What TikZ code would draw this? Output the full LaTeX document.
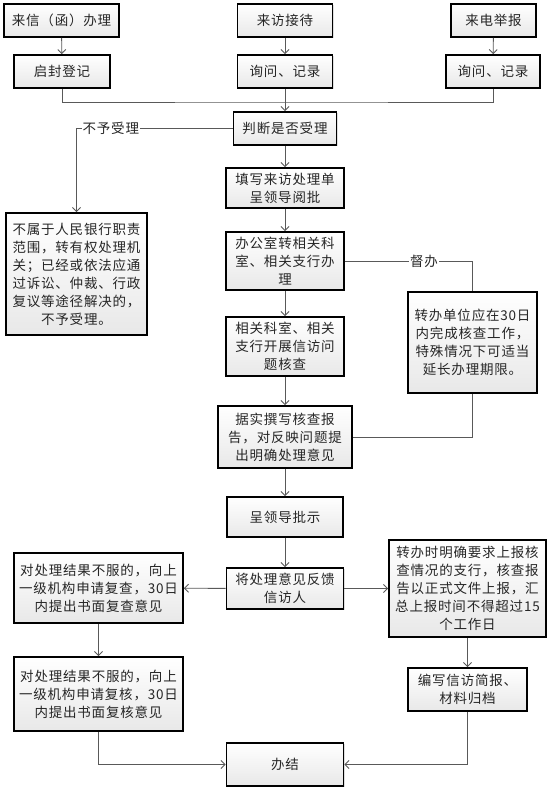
\documentclass[tikz,border=0pt]{standalone}
\usepackage{fontspec}
\newfontfamily\cjk[LetterSpace=6]{Noto Sans CJK SC}
\usepackage{tikz}
\usetikzlibrary{arrows.meta, positioning, shadows}

\tikzset{
  box/.style={draw=black, line width=1.8pt, top color=white, bottom color=black!9,
    text=black!85, align=center, inner sep=1pt, font=\cjk\fontsize{13.5}{18}\selectfont,
    drop shadow={shadow xshift=1.2pt, shadow yshift=-1.2pt, opacity=0.25}},
  wh/.style 2 args={minimum width=#1pt, minimum height=#2pt},
  link/.style={draw=black!65, line width=0.9pt},
  arr/.style={link, -{Straight Barb[length=4pt,width=8pt]}},
  tag/.style={fill=white, inner sep=1pt, text=black!85, font=\cjk\fontsize{13.5}{18}\selectfont}
}

\begin{document}
\begin{tikzpicture}[x=1pt, y=-1pt]
    \useasboundingbox (0,0) rectangle (554,795);

    % Three intake channels (top row)
    \node[box, wh={115}{33}] (letter) at (61.5,20.5) {来信（函）办理};
    \node[box, wh={95}{33}]  (visit)  at (285,20.5)  {来访接待};
    \node[box, wh={85}{33}]  (phone)  at (493.5,20.5) {来电举报};
    \node[box, wh={96}{33}]  (open)   at (62,71.5)   {启封登记};
    \node[box, wh={95}{33}]  (askm)   at (285,71.5)  {询问、记录};
    \node[box, wh={94}{33}]  (askr)   at (493,71.5)  {询问、记录};
    \coordinate (mrg) at (285,102);

    % Main column
    \node[box, wh={103}{33}] (judge)    at (285,128.5) {判断是否受理};
    \node[box, wh={118}{40}] (fill)     at (285,188)   {填写来访处理单\\呈领导阅批};
    \node[box, wh={118}{58}] (office)   at (285,261)   {办公室转相关科\\室、相关支行办\\理};
    \node[box, wh={118}{59}] (check)    at (285,346.5) {相关科室、相关\\支行开展信访问\\题核查};
    \node[box, wh={134}{62}] (report)   at (285,437)   {据实撰写核查报\\告，对反映问题提\\出明确处理意见};
    \node[box, wh={116}{40}] (lead)     at (285,517)   {呈领导批示};
    \node[box, wh={117}{41}] (feedback) at (285,588.5) {将处理意见反馈\\信访人};
    \node[box, wh={117}{43}] (done)     at (285,764.5) {办结};

    % Side boxes
    \node[box, wh={141}{122}] (reject)   at (76.5,274)   {不属于人民银行职责\\范围，转有权处理机\\关；已经或依法应通\\过诉讼、仲裁、行政\\复议等途径解决的，\\不予受理。};
    \node[box, wh={129}{101}] (transfer) at (472.5,342.5) {转办单位应在30日\\内完成核查工作，\\特殊情况下可适当\\延长办理期限。};
    \node[box, wh={169}{70}]  (review)   at (98.5,588)   {对处理结果不服的，向上\\一级机构申请复查，30日\\内提出书面复查意见};
    \node[box, wh={169}{74}]  (recheck)  at (98.5,694)   {对处理结果不服的，向上\\一级机构申请复核，30日\\内提出书面复核意见};
    \node[box, wh={157}{97}]  (branch)   at (467.5,588.5) {转办时明确要求上报核\\查情况的支行，核查报\\告以正式文件上报，汇\\总上报时间不得超过15\\个工作日};
    \node[box, wh={119}{43}]  (archive)  at (467.5,689.5) {编写信访简报、\\材料归档};

    % Connectors
    \draw[arr] (letter) -- (open);
    \draw[arr] (visit) -- (askm);
    \draw[arr] (phone) -- (askr);
    \draw[link] (open.south) |- (mrg) -| (askr.south);
    \draw[arr] (askm) -- (judge);
    \draw[arr] (judge.west) -| node[tag, pos=0.39] {不予受理} (reject.north);
    \foreach \a/\b in {judge/fill, fill/office, office/check, check/report, report/lead, lead/feedback}
        \draw[arr] (\a) -- (\b);
    \draw[link] (office.east) -| node[tag, pos=0.31] {督办} (transfer.north);
    \draw[link] (transfer.south) |- (report.east);
    \draw[arr] (feedback) -- (review);
    \draw[arr] (feedback) -- (branch);
    \draw[arr] (review) -- (recheck);
    \draw[arr] (branch) -- (archive);
    \draw[arr] (recheck.south) |- (done.west);
    \draw[arr] (archive.south) |- (done.east);
\end{tikzpicture}
\end{document}
